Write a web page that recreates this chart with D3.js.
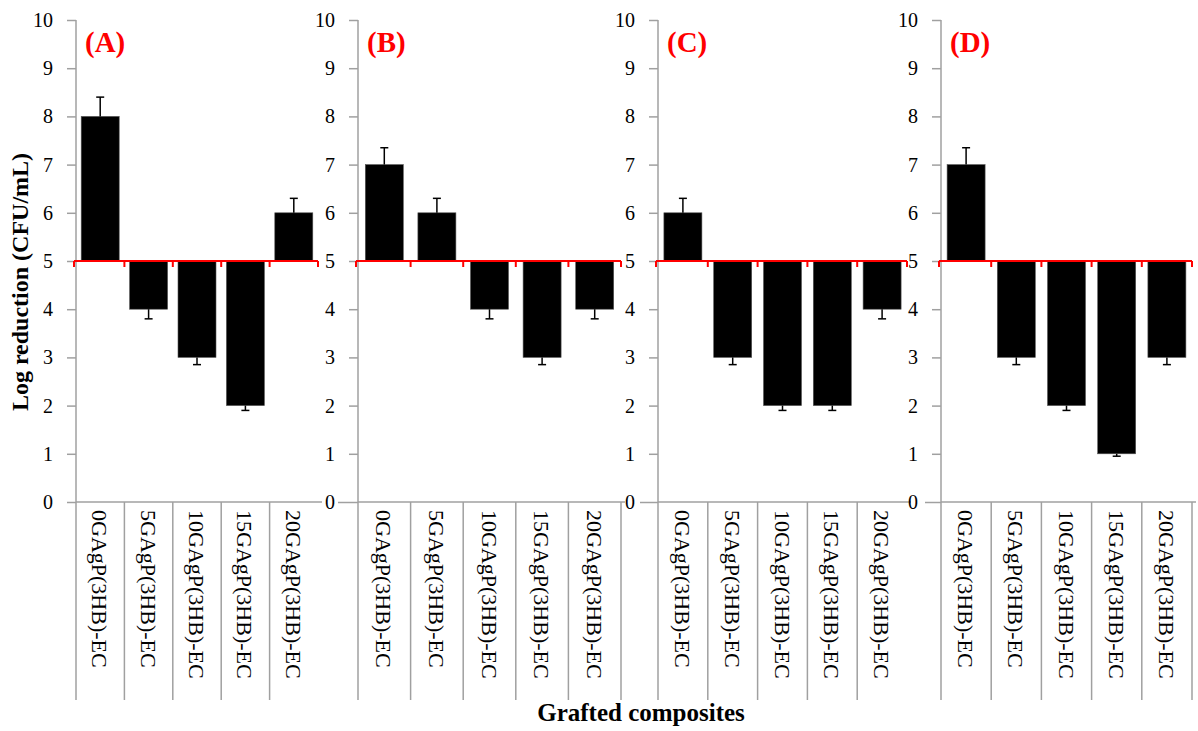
<!DOCTYPE html>
<html>
<head>
<meta charset="utf-8">
<script src="https://cdn.jsdelivr.net/npm/d3@7"></script>
<style>
  html, body { margin: 0; padding: 0; background: #fff; }
  svg { display: block; font-family: "Liberation Serif", "Times New Roman", serif; }
</style>
</head>
<body>
<script>
const [width, height] = [1198, 731];
const serif = '"Liberation Serif", "Times New Roman", serif';

// categories shared by all four panels
const categories = ['0GAgP(3HB)-EC', '5GAgP(3HB)-EC', '10GAgP(3HB)-EC', '15GAgP(3HB)-EC', '20GAgP(3HB)-EC'];
const panelLabels = ['(A)', '(B)', '(C)', '(D)'];

const valuesA = [8, 4, 3, 2, 6];
const errorsA = [0.4, 0.2, 0.15, 0.1, 0.3];
const valuesB = [7, 6, 4, 3, 4];
const errorsB = [0.35, 0.3, 0.2, 0.15, 0.2];
const valuesC = [6, 3, 2, 2, 4];
const errorsC = [0.3, 0.15, 0.1, 0.1, 0.2];
const valuesD = [7, 3, 2, 1, 3];
const errorsD = [0.35, 0.15, 0.1, 0.05, 0.15];

const yTickValues = [0, 1, 2, 3, 4, 5, 6, 7, 8, 9, 10];
const baseline = 5;

const yTitle = 'Log reduction (CFU/mL)';
const xTitle = 'Grafted composites';

// panel placement (left axis x, right end x)
const panels = [
    {axis: 76, end: 318, endDivider: false, zeroTick: 9},
    {axis: 358, end: 621, endDivider: true, zeroTick: 20},
    {axis: 658, end: 907, endDivider: false, zeroTick: 18},
    {axis: 941, end: 1192, endDivider: true, zeroTick: 16},
];
const series = [
    [valuesA, errorsA],
    [valuesB, errorsB],
    [valuesC, errorsC],
    [valuesD, errorsD],
];

const gray = '#a0a0a0';
const barWidth = 38;
const divBottom = 700;

const svg = d3.select('body').append('svg')
    .attr('width', width)
    .attr('height', height)
    .attr('viewBox', [0, 0, width, height]);

const y = d3.scaleLinear()
    .domain([0, 10])
    .range([502, 20]);

panels.forEach((p, i) => {
    const [values, errors] = series[i];
    const data = categories.map((c, j) => ({c, v: values[j], e: errors[j]}));

    const x = d3.scaleBand()
        .domain(categories)
        .range([p.axis, p.end]);

    const g = svg.append('g');

    // y axis
    const yAxis = g.append('g')
        .attr('transform', `translate(${p.axis},0)`)
        .call(d3.axisLeft(y).tickValues(yTickValues).tickSize(9).tickPadding(14))
        .attr('font-family', serif)
        .attr('font-size', 20);
    yAxis.select('.domain').remove();
    yAxis.selectAll('.tick line').attr('stroke', gray).attr('stroke-width', 1.5);
    yAxis.selectAll('.tick line').filter(d => d === 0).attr('x2', -p.zeroTick);
    yAxis.selectAll('.tick text').attr('fill', '#000');

    // axis line running down through the category area
    g.append('line')
        .attr('x1', p.axis).attr('x2', p.axis)
        .attr('y1', y(10)).attr('y2', divBottom)
        .attr('stroke', gray).attr('stroke-width', 1.5);

    // category baseline at 0
    g.append('line')
        .attr('x1', p.axis).attr('x2', p.end + 4)
        .attr('y1', y(0)).attr('y2', y(0))
        .attr('stroke', gray).attr('stroke-width', 1.5);

    // category dividers
    const bounds = categories.slice(1).map(c => x(c));
    if (p.endDivider) bounds.push(p.end);
    g.selectAll('line.div')
        .data(bounds)
        .join('line')
        .attr('class', 'div')
        .attr('x1', d => d).attr('x2', d => d)
        .attr('y1', y(0)).attr('y2', divBottom)
        .attr('stroke', gray).attr('stroke-width', 1.5);

    // category labels, rotated
    g.selectAll('text.cat')
        .data(categories)
        .join('text')
        .attr('class', 'cat')
        .attr('transform', d => `translate(${x(d) + x.bandwidth() / 2 - 8},510) rotate(90)`)
        .attr('font-family', serif)
        .attr('font-size', 22)
        .attr('fill', '#000')
        .text(d => d);

    // bars from baseline 5
    g.selectAll('rect.bar')
        .data(data)
        .join('rect')
        .attr('class', 'bar')
        .attr('x', d => x(d.c) + (x.bandwidth() - barWidth) / 2)
        .attr('width', barWidth)
        .attr('y', d => y(Math.max(d.v, baseline)))
        .attr('height', d => Math.abs(y(d.v) - y(baseline)))
        .attr('fill', '#000')
        .attr('stroke', '#555')
        .attr('stroke-width', 0.6);

    // error bars (away from baseline)
    const errEnd = d => d.v >= baseline ? d.v + d.e : d.v - d.e;
    const eg = g.append('g').attr('stroke', '#000').attr('stroke-width', 1.5);
    eg.selectAll('line.stem')
        .data(data)
        .join('line')
        .attr('class', 'stem')
        .attr('x1', d => x(d.c) + x.bandwidth() / 2)
        .attr('x2', d => x(d.c) + x.bandwidth() / 2)
        .attr('y1', d => y(d.v))
        .attr('y2', d => y(errEnd(d)));
    eg.selectAll('line.cap')
        .data(data)
        .join('line')
        .attr('class', 'cap')
        .attr('x1', d => x(d.c) + x.bandwidth() / 2 - 4)
        .attr('x2', d => x(d.c) + x.bandwidth() / 2 + 4)
        .attr('y1', d => y(errEnd(d)))
        .attr('y2', d => y(errEnd(d)));

    // red axis at 5
    const redTicks = categories.map(c => x(c)).concat([p.end]);
    redTicks[0] = p.axis - 2;
    g.append('line')
        .attr('x1', p.axis - 2).attr('x2', p.end)
        .attr('y1', y(baseline)).attr('y2', y(baseline))
        .attr('stroke', '#ff0000').attr('stroke-width', 2);
    g.selectAll('line.rtick')
        .data(redTicks)
        .join('line')
        .attr('class', 'rtick')
        .attr('x1', d => d).attr('x2', d => d)
        .attr('y1', y(baseline)).attr('y2', y(baseline) + 6)
        .attr('stroke', '#ff0000').attr('stroke-width', 2);

    // panel label
    g.append('text')
        .attr('x', p.axis + 9)
        .attr('y', 52)
        .attr('fill', '#ff0000')
        .attr('font-family', serif)
        .attr('font-size', 29)
        .attr('font-weight', 'bold')
        .text(panelLabels[i]);
});

// axis titles
svg.append('text')
    .attr('transform', 'translate(28,282) rotate(-90)')
    .attr('text-anchor', 'middle')
    .attr('font-family', serif)
    .attr('font-size', 24)
    .attr('font-weight', 'bold')
    .text(yTitle);

svg.append('text')
    .attr('x', 641)
    .attr('y', 721)
    .attr('text-anchor', 'middle')
    .attr('font-family', serif)
    .attr('font-size', 25)
    .attr('font-weight', 'bold')
    .text(xTitle);
</script>
</body>
</html>
